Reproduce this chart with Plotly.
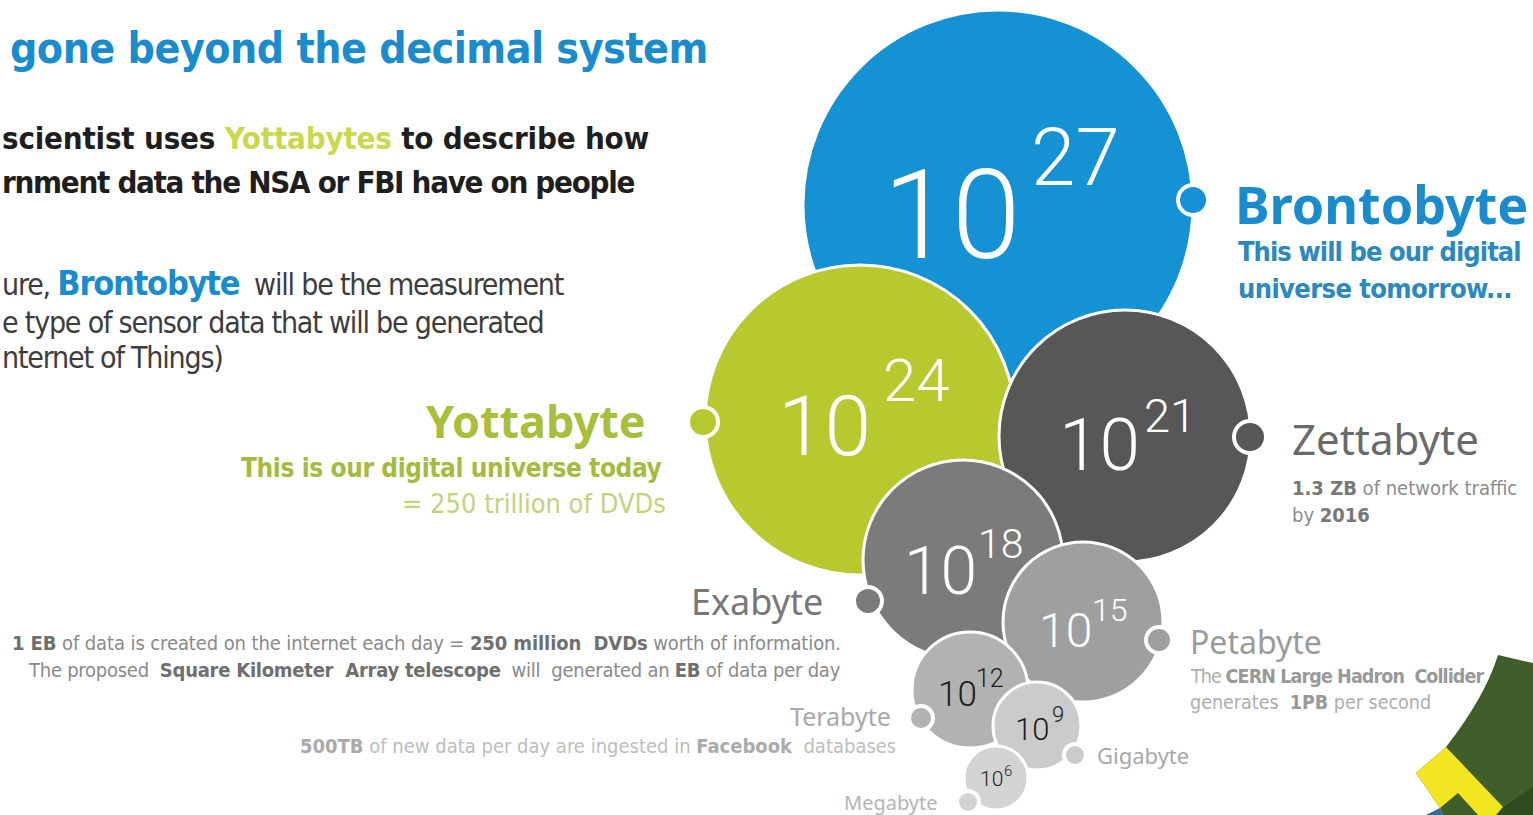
import plotly.graph_objects as go

# ---------------- data ----------------
units = ["Brontobyte", "Yottabyte", "Zettabyte", "Exabyte",
         "Petabyte", "Terabyte", "Gigabyte", "Megabyte"]
exponents = [27, 24, 21, 18, 15, 12, 9, 6]

# bubble layout (pixel space)
bubble_x = [998, 860, 1125, 963, 1083, 970, 1037, 996]
bubble_y = [205, 420, 436, 560, 622, 690, 726, 778]
bubble_r = [195, 155, 126, 100, 80, 58, 44, 32]
bubble_colors = ["#1592d3", "#b7c92f", "#575757", "#7b7b7b",
                 "#9f9f9f", "#b2b2b2", "#cbcbcb", "#d3d3d3"]

dot_x = [1193, 703, 1250, 868, 1159, 921, 1075, 968]
dot_y = [200, 422, 437, 601, 640, 718, 755, 802]
dot_r = [15, 15, 16, 14, 13, 12, 11, 11]

# "10" and exponent label placement
base_x = [952, 824, 1099, 940, 1065, 957, 1032, 991]
base_y = [206, 420, 439, 566, 627, 692, 727, 777]
base_size = [124, 84, 73, 66, 48, 35, 31, 21]
sup_x = [1075, 916, 1170, 1000, 1110, 990, 1058, 1008]
sup_y = [152, 376, 412, 541, 607, 676, 713, 770]
sup_size = [80, 60, 47, 41, 32, 25, 22, 15]
num_colors = ["white", "white", "white", "white", "white",
              "#1c1c1c", "#1c1c1c", "#1c1c1c"]

W, H = 1533, 815
NARROW = "DejaVu Sans Condensed, DejaVu Sans, sans-serif"
WIDE = "Noto Sans, DejaVu Sans, sans-serif"
THIN = "Roboto, Open Sans, sans-serif"

fig = go.Figure()

# bubbles (smaller ones drawn on top)
fig.add_trace(go.Scatter(
    x=bubble_x, y=bubble_y, mode="markers",
    marker=dict(size=[2 * r for r in bubble_r], color=bubble_colors,
                line=dict(color="white", width=3), opacity=1),
    hoverinfo="text", text=units, cliponaxis=False, showlegend=False))

# connector dots
fig.add_trace(go.Scatter(
    x=dot_x, y=dot_y, mode="markers",
    marker=dict(size=[2 * r for r in dot_r], color=bubble_colors,
                line=dict(color="white", width=4), opacity=1),
    hoverinfo="text", text=units, cliponaxis=False, showlegend=False))


def add_text(txt, x, y, size, color, family, anchor="left", weight="normal", ls=0):
    if ls:
        txt = "<span style='letter-spacing:%spx'>%s</span>" % (ls, txt)
    fig.add_annotation(text=txt, x=x, y=y, xref="x", yref="y", showarrow=False,
                       xanchor=anchor, yanchor="middle", align=anchor,
                       font=dict(size=size, color=color, family=family, weight=weight))


# power-of-ten labels
for i, e in enumerate(exponents):
    add_text("10", base_x[i], base_y[i] + 0.08 * base_size[i], base_size[i],
             num_colors[i], THIN, "center", 300)
    add_text(str(e), sup_x[i], sup_y[i] + 0.08 * sup_size[i], sup_size[i],
             num_colors[i], THIN, "center", 300)

BLUE = "#1b8ccb"
GREEN = "#a9bf3b"

# left text block
add_text("gone beyond the decimal system", 8, 48, 42.5, BLUE, NARROW, "left", "bold", -0.5)
add_text("scientist uses <span style='color:#c9d84d'>Yottabytes</span> to describe how",
         0, 138, 31, "#1e1e1e", NARROW, "left", "bold", -0.2)
add_text("rnment data the NSA or FBI have on people", 0, 182, 31, "#1e1e1e", NARROW, "left", "bold", -1.3)
add_text("ure, <b style='color:#1b8ccb'><span style='font-size:34px'>Brontobyte</span></b>  will be the measurement",
         0, 283, 30, "#3d3d3d", NARROW, "left", "normal", -1.2)
add_text("e type of sensor data that will be generated", 0, 322, 30, "#3d3d3d", NARROW, "left", "normal", -1.2)
add_text("nternet of Things)", 0, 357, 30, "#3d3d3d", NARROW, "left", "normal", -1.2)

# unit names and notes
add_text(units[0], 1233, 203, 52, BLUE, WIDE, "left", "bold")
add_text("This will be our digital", 1236, 251, 27, "#2b89bd", NARROW, "left", "bold", -0.95)
add_text("universe tomorrow...", 1236, 288, 27, "#2b89bd", NARROW, "left", "bold", -0.6)

add_text(units[1], 648, 420, 45, GREEN, WIDE, "right", "bold")
add_text("This is our digital universe today", 663, 468, 26, "#a6bb3e", NARROW, "right", "bold", -0.4)
add_text("= 250 trillion of DVDs", 668, 503, 27, "#c3d27c", NARROW, "right")

add_text(units[2], 1290, 438, 42, "#6a6a6a", WIDE, "left")
add_text("<b style='color:#777'>1.3 ZB</b> of network traffic", 1290, 488, 20, "#8c8c8c", NARROW, "left")
add_text("by <b style='color:#777'>2016</b>", 1290, 515, 20, "#8c8c8c", NARROW, "left")

add_text(units[3], 825, 601, 36, "#777777", WIDE, "right")
add_text("<b style='color:#6f6f6f'>1 EB</b> of data is created on the internet each day = "
         "<b style='color:#6f6f6f'>250 million  DVDs</b> worth of information.",
         843, 643, 20, "#8a8a8a", NARROW, "right", "normal", -0.1)
add_text("The proposed  <b style='color:#6f6f6f'>Square Kilometer  Array telescope</b>  will  "
         "generated an <b style='color:#6f6f6f'>EB</b> of data per day",
         843, 670, 20, "#8a8a8a", NARROW, "right", "normal", -0.25)

add_text(units[4], 1188, 641, 32, "#9a9a9a", WIDE, "left")
add_text("The <b style='color:#999'>CERN Large Hadron  Collider</b>", 1188, 676, 19.5, "#adadad", NARROW, "left", "normal", -0.9)
add_text("generates  <b style='color:#999'>1PB</b> per second", 1188, 702, 19.5, "#adadad", NARROW, "left")

add_text(units[5], 893, 716, 25, "#a8a8a8", WIDE, "right")
add_text("<b style='color:#aaa'>500TB</b> of new data per day are ingested in "
         "<b style='color:#aaa'>Facebook</b>  databases", 898, 746, 20, "#bdbdbd", NARROW, "right")

add_text(units[6], 1095, 755, 22, "#a8a8a8", WIDE, "left")
add_text(units[7], 940, 802, 20, "#b5b5b5", WIDE, "right")

# decorative corner logo fragment
fig.add_shape(type="path", xref="x", yref="y", layer="above",
              path="M1498,655 L1533,663 L1533,815 L1443,815 L1440,808 L1416,773 L1446,747 "
                   "Q1485,697 1498,655 Z",
              fillcolor="#3f5e2a", line=dict(width=0))
fig.add_shape(type="path", xref="x", yref="y", layer="above",
              path="M1503,807 L1533,787 L1533,815 L1496,815 Z",
              fillcolor="#2e4a1f", line=dict(width=0))
fig.add_shape(type="path", xref="x", yref="y", layer="above",
              path="M1446,747 L1503,807 L1496,815 L1478,815 L1458,793 L1440,808 L1416,773 Z",
              fillcolor="#f2e620", line=dict(width=0))
fig.add_shape(type="path", xref="x", yref="y", layer="above",
              path="M1426,815 L1440,808 L1443,815 Z",
              fillcolor="#3a6a8a", line=dict(width=0))

fig.update_layout(
    width=W, height=H, margin=dict(l=0, r=0, t=0, b=0),
    paper_bgcolor="white", plot_bgcolor="white",
    xaxis=dict(range=[0, W], visible=False, fixedrange=True),
    yaxis=dict(range=[H, 0], visible=False, fixedrange=True),
    showlegend=False,
)

fig.write_html("out.html")
